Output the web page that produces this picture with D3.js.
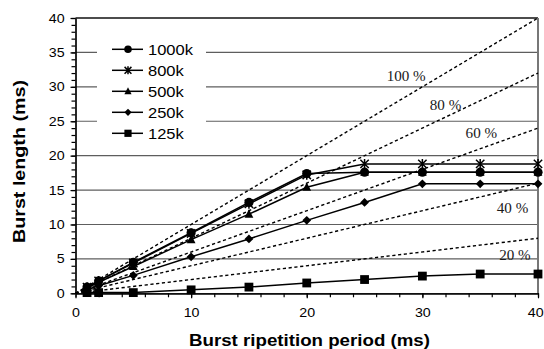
<!DOCTYPE html>
<html>
<head>
<meta charset="utf-8">
<script src="https://cdn.jsdelivr.net/npm/d3@7"></script>
<style>
  body { margin: 0; background: #fff; }
  svg { display: block; }
</style>
</head>
<body>
<div id="chart"></div>
<script>
// burst repetition period (ms)
var periods = [1, 2, 5, 10, 15, 20, 25, 30, 35, 40];

// burst length (ms) per bit rate
var len1000k = [0.9, 1.8, 4.5, 8.8, 13.2, 17.4, 17.6, 17.6, 17.6, 17.6];
var len800k  = [0.9, 1.8, 4.4, 8.7, 13.0, 17.2, 18.8, 18.8, 18.8, 18.8];
var len500k  = [0.8, 1.6, 3.9, 7.8, 11.5, 15.4, 17.6, 17.6, 17.6, 17.6];
var len250k  = [0.5, 1.1, 2.6, 5.3, 7.9, 10.6, 13.2, 15.9, 15.9, 15.9];
var len125k  = [0.1, 0.1, 0.1, 0.5, 0.9, 1.5, 2.0, 2.5, 2.8, 2.8];

var seriesNames = ["1000k", "800k", "500k", "250k", "125k"];
var markerTypes = ["circle", "star", "triangle", "diamond", "square"];

// duty-cycle reference lines (%)
var ratios = [100, 80, 60, 40, 20];
// where each % label sits, in data units (period, length)
var ratioLabelX = [28.6, 32.0, 35.1, 37.8, 38.0];
var ratioLabelY = [30.9, 26.6, 22.6, 11.7, 4.8];

var yMajor = [0, 5, 10, 15, 20, 25, 30, 35, 40];
var xMajor = [0, 10, 20, 30, 40];

function init() {
    var w = 544, h = 349;
    var left = 75.5, right = 538, top = 18, bottom = 293.3;

    var svg = d3.select("#chart").append("svg")
        .attr("width", w)
        .attr("height", h);

    var xScale = d3.scaleLinear().domain([0, 40]).range([left, right]);
    var yScale = d3.scaleLinear().domain([0, 40]).range([bottom, top]);

    //horizontal gridlines
    svg.append("g").selectAll("line")
        .data(yMajor.filter(function (d) { return d > 0 && d < 40; }))
        .enter().append("line")
        .attr("x1", left).attr("x2", right)
        .attr("y1", function (d) { return yScale(d); })
        .attr("y2", function (d) { return yScale(d); })
        .attr("stroke", "#5e5e5e")
        .attr("stroke-width", 1.2);

    //plot frame: top black, right grey
    svg.append("line")
        .attr("x1", left).attr("x2", right)
        .attr("y1", yScale(40)).attr("y2", yScale(40))
        .attr("stroke", "#111").attr("stroke-width", 1.6);
    svg.append("line")
        .attr("x1", right).attr("x2", right)
        .attr("y1", yScale(40)).attr("y2", yScale(0))
        .attr("stroke", "#777").attr("stroke-width", 2);

    //dashed ratio lines
    svg.append("g").selectAll("line")
        .data(ratios)
        .enter().append("line")
        .attr("x1", xScale(0)).attr("y1", yScale(0))
        .attr("x2", xScale(40))
        .attr("y2", function (d) { return yScale(40 * d / 100); })
        .attr("stroke", "#000")
        .attr("stroke-width", 1.4)
        .attr("stroke-dasharray", "3.2,2.6");

    //ratio labels
    svg.append("g").selectAll("text")
        .data(ratios)
        .enter().append("text")
        .attr("transform", function (d, i) {
            return "translate(" + xScale(ratioLabelX[i]) + "," + yScale(ratioLabelY[i]) + ") scale(1.08,1)";
        })
        .attr("text-anchor", "middle")
        .attr("font-family", "'Liberation Serif', 'Times New Roman', serif")
        .attr("font-size", 14)
        .attr("fill", "#1a1a1a")
        .text(function (d) { return d + " %"; });

    //axes
    var yAxis = d3.axisLeft(yScale).tickValues(yMajor).tickSize(5).tickSizeOuter(0).tickPadding(4.6);
    var yMinor = d3.axisLeft(yScale).tickValues(d3.range(0, 41, 1)).tickSize(4).tickSizeOuter(0).tickFormat("");
    var xAxis = d3.axisBottom(xScale).tickValues(xMajor).tickSize(5).tickSizeOuter(0).tickPadding(10.3);
    var xMinor = d3.axisBottom(xScale).tickValues(d3.range(0, 41, 2)).tickSize(4).tickSizeOuter(0).tickFormat("");

    var gy2 = svg.append("g").attr("transform", "translate(" + left + ",0)").call(yMinor);
    var gy = svg.append("g").attr("transform", "translate(" + left + ",0)").call(yAxis);
    var gx2 = svg.append("g").attr("transform", "translate(0," + bottom + ")").call(xMinor);
    var gx = svg.append("g").attr("transform", "translate(0," + bottom + ")").call(xAxis);

    [gy, gy2, gx, gx2].forEach(function (g) {
        g.selectAll("path, line").attr("stroke", "#000").attr("stroke-width", 1.2);
        g.selectAll("text")
            .attr("font-family", "'Liberation Sans', Arial, sans-serif")
            .attr("font-size", 12.5)
            .attr("fill", "#000")
            .attr("transform", "scale(1.14,1)");
    });
    //keep the last x label inside the window
    gx.selectAll(".tick text")
        .filter(function (d) { return d === 40; })
        .attr("x", -2.5);

    //series
    var allSeries = [len1000k, len800k, len500k, len250k, len125k];
    var line = d3.line()
        .x(function (d, i) { return xScale(periods[i]); })
        .y(function (d) { return yScale(d); });

    allSeries.forEach(function (vals) {
        svg.append("path")
            .datum(vals)
            .attr("fill", "none")
            .attr("stroke", "#000")
            .attr("stroke-width", 1.5)
            .attr("d", line);
    });

    allSeries.forEach(function (vals, s) {
        vals.forEach(function (v, i) {
            drawMarker(svg, markerTypes[s], xScale(periods[i]), yScale(v), 1);
        });
    });

    //legend
    var legend = svg.append("g");
    legend.append("rect")
        .attr("x", 97).attr("y", 37)
        .attr("width", 109).attr("height", 108)
        .attr("fill", "#fff");

    seriesNames.forEach(function (name, i) {
        var ly = 49.3 + i * 21;
        legend.append("line")
            .attr("x1", 112).attr("x2", 143)
            .attr("y1", ly).attr("y2", ly)
            .attr("stroke", "#000").attr("stroke-width", 1.5);
        drawMarker(legend, markerTypes[i], 128, ly, 0.82);
        legend.append("text")
            .attr("transform", "translate(148," + (ly + 5.2) + ") scale(1.18,1)")
            .attr("font-family", "'Liberation Sans', Arial, sans-serif")
            .attr("font-size", 14)
            .attr("fill", "#000")
            .text(name);
    });

    //axis titles
    svg.append("text")
        .attr("x", 309.5).attr("y", 345.5)
        .attr("text-anchor", "middle")
        .attr("font-family", "'Liberation Sans', Arial, sans-serif")
        .attr("font-weight", "bold")
        .attr("font-size", 17)
        .attr("textLength", 241)
        .attr("lengthAdjust", "spacingAndGlyphs")
        .text("Burst ripetition period (ms)");

    svg.append("text")
        .attr("transform", "translate(24.5,161.5) rotate(-90)")
        .attr("text-anchor", "middle")
        .attr("font-family", "'Liberation Sans', Arial, sans-serif")
        .attr("font-weight", "bold")
        .attr("font-size", 17)
        .attr("textLength", 163)
        .attr("lengthAdjust", "spacingAndGlyphs")
        .text("Burst length (ms)");
}

function drawMarker(g, type, cx, cy, k) {
    var s = 4.4 * k;
    if (type === "circle") {
        g.append("circle").attr("cx", cx).attr("cy", cy).attr("r", s + 0.2).attr("fill", "#000");
    } else if (type === "square") {
        g.append("rect").attr("x", cx - s).attr("y", cy - s)
            .attr("width", 2 * s).attr("height", 2 * s).attr("fill", "#000");
    } else if (type === "triangle") {
        g.append("path")
            .attr("d", "M" + cx + "," + (cy - s * 1.1) + "L" + (cx + s) + "," + (cy + s * 0.8) + "L" + (cx - s) + "," + (cy + s * 0.8) + "Z")
            .attr("fill", "#000");
    } else if (type === "diamond") {
        g.append("path")
            .attr("d", "M" + cx + "," + (cy - s) + "L" + (cx + s) + "," + cy + "L" + cx + "," + (cy + s) + "L" + (cx - s) + "," + cy + "Z")
            .attr("fill", "#000");
    } else if (type === "star") {
        var d = s * 0.95;
        g.append("path")
            .attr("d", "M" + cx + "," + (cy - s * 1.1) + "L" + cx + "," + (cy + s * 1.1) +
                "M" + (cx - d) + "," + (cy - d) + "L" + (cx + d) + "," + (cy + d) +
                "M" + (cx - d) + "," + (cy + d) + "L" + (cx + d) + "," + (cy - d))
            .attr("stroke", "#000")
            .attr("stroke-width", 1.5)
            .attr("fill", "none");
    }
}

window.onload = init;
</script>
</body>
</html>
